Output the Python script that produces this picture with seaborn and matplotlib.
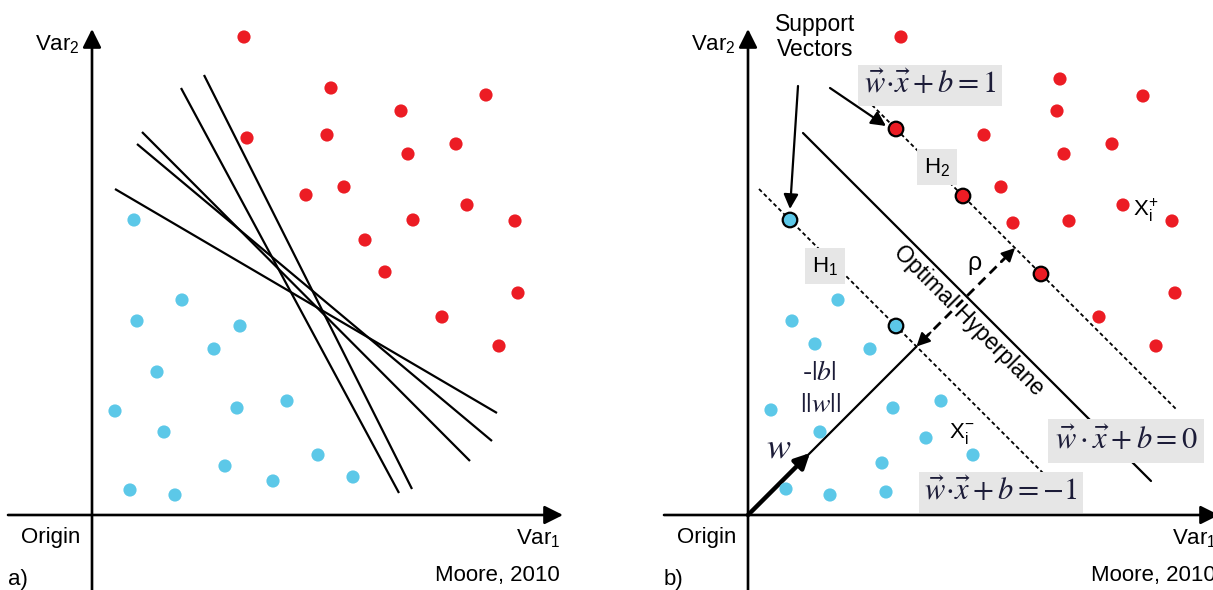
import numpy as np
import pandas as pd
import matplotlib
matplotlib.use("Agg")
import matplotlib.pyplot as plt
import seaborn as sns

sns.set_theme(style="white")
plt.rcParams['font.family'] = ['Liberation Sans', 'DejaVu Sans']
plt.rcParams['mathtext.fontset'] = 'stix'
plt.rcParams['text.color'] = 'black'

# ---------------- data (coordinates relative to each panel's origin) -------------
left_red_x = [152, 239, 309, 394, 155, 235, 316, 364, 214, 252, 375, 321, 423, 273, 293, 426, 350, 407]
left_red_y = [478, 427, 404, 420, 377, 380, 361, 371, 320, 328, 310, 295, 294, 275, 243, 222, 198, 169]
left_blue_x = [42, 90, 45, 148, 122, 65, 23, 145, 195, 72, 226, 133, 181, 261, 38, 83]
left_blue_y = [295, 215, 194, 189, 166, 143, 104, 107, 114, 83, 60, 49, 34, 38, 25, 20]
# candidate separating lines: start x, start y, end x, end y
sep_x1 = [112, 89, 50, 45, 23]
sep_y1 = [440, 427, 383, 371, 326]
sep_x2 = [320, 307, 378, 400, 405]
sep_y2 = [26, 22, 54, 74, 102]

right_red_x = [153, 312, 395, 309, 236, 364, 316, 253, 375, 265, 321, 424, 427, 351, 408]
right_red_y = [478, 436, 419, 404, 380, 371, 361, 328, 310, 292, 294, 294, 222, 198, 169]
right_blue_x = [90, 44, 67, 122, 23, 145, 193, 72, 178, 225, 134, 38, 82, 138]
right_blue_y = [215, 194, 171, 166, 105, 107, 114, 83, 77, 60, 52, 26, 20, 23]
sv_red_x = [148, 215, 293]
sv_red_y = [386, 319, 241]
sv_blue_x = [42, 148]
sv_blue_y = [295, 189]
# hyperplanes x + y = c : H1, optimal, H2
plane_c = [337, 437, 534]
plane_xmin = [11, 55, 124]
plane_xmax = [295, 403, 428]
plane_style = ['dashed', 'solid', 'dashed']

RED = '#ec1c24'
BLUE = '#5cc8e8'
BOXC = '#e6e6e6'
EQC = '#1c1c38'

W, H = 1213, 590
fig = plt.figure(figsize=(W / 100, H / 100), dpi=100)
fig.patch.set_facecolor('white')

ox_l, ox_r, oy = 92, 748, 515
split = 620
axL = fig.add_axes([0, 0, split / W, 1])
axR = fig.add_axes([split / W, 0, (W - split) / W, 1])
axL.set_xlim(-ox_l, split - ox_l)
axR.set_xlim(split - ox_r, W - ox_r)
for ax in (axL, axR):
    ax.set_ylim(oy - H, oy)
    ax.axis('off')


def draw_axes(ax, panel_label):
    ax.annotate('', xy=(471, 0), xytext=(-84, 0),
                arrowprops=dict(arrowstyle='-|>', lw=1.9, color='black',
                                mutation_scale=28, shrinkA=0, shrinkB=0), annotation_clip=False)
    ax.annotate('', xy=(0, 486), xytext=(0, -80),
                arrowprops=dict(arrowstyle='-|>', lw=1.9, color='black',
                                mutation_scale=28, shrinkA=0, shrinkB=0), annotation_clip=False)
    ax.text(-12, 471, r'Var$_{\mathregular{2}}$', ha='right', va='center', fontsize=16)
    ax.text(-12, -23, 'Origin', ha='right', va='center', fontsize=16)
    ax.text(424, -23, r'Var$_{\mathregular{1}}$', ha='left', va='center', fontsize=16, clip_on=False)
    ax.text(343, -60, 'Moore, 2010', ha='left', va='center', fontsize=16, clip_on=False)
    ax.text(-84, -64, panel_label, ha='left', va='center', fontsize=16)


# ---------------- panel a ----------------
draw_axes(axL, 'a)')
for x1, y1, x2, y2 in zip(sep_x1, sep_y1, sep_x2, sep_y2):
    axL.plot([x1, x2], [y1, y2], color='black', lw=1.6, solid_capstyle='butt')
dfL = pd.DataFrame({'x': left_red_x + left_blue_x, 'y': left_red_y + left_blue_y,
                    'cls': ['pos'] * len(left_red_x) + ['neg'] * len(left_blue_x)})
sns.scatterplot(data=dfL, x='x', y='y', hue='cls', palette={'pos': RED, 'neg': BLUE},
                s=90, linewidth=0, legend=False, ax=axL, zorder=3)

# ---------------- panel b ----------------
draw_axes(axR, 'b)')
for c, x0, x1, st in zip(plane_c, plane_xmin, plane_xmax, plane_style):
    xs = np.array([x0, x1])
    if st == 'solid':
        axR.plot(xs, c - xs, color='black', lw=1.6)
    else:
        axR.plot(xs, c - xs, color='black', lw=1.3, linestyle=(0, (2.2, 1.6)))

# w direction line and thick arrow
mid1 = plane_c[0] / 2
mid2 = plane_c[2] / 2
axR.plot([0, mid1], [0, mid1], color='black', lw=1.6)
axR.annotate('', xy=(62, 62), xytext=(0, 0),
             arrowprops=dict(arrowstyle='-|>', lw=3.2, color='black', mutation_scale=22,
                             shrinkA=0, shrinkB=0))
# rho dashed double arrow
axR.plot([mid1 + 6, mid2 - 6], [mid1 + 6, mid2 - 6], color='black', lw=2.0, linestyle=(0, (3.5, 2.2)))
for tip, back in ((mid2, mid2 - 14), (mid1, mid1 + 14)):
    axR.annotate('', xy=(tip, tip), xytext=(back, back),
                 arrowprops=dict(arrowstyle='-|>', lw=1.5, color='black', mutation_scale=20,
                                 shrinkA=0, shrinkB=0))

dfR = pd.DataFrame({'x': right_red_x + right_blue_x, 'y': right_red_y + right_blue_y,
                    'cls': ['pos'] * len(right_red_x) + ['neg'] * len(right_blue_x)})
sns.scatterplot(data=dfR, x='x', y='y', hue='cls', palette={'pos': RED, 'neg': BLUE},
                s=90, linewidth=0, legend=False, ax=axR, zorder=3)
dfS = pd.DataFrame({'x': sv_red_x + sv_blue_x, 'y': sv_red_y + sv_blue_y,
                    'cls': ['pos'] * len(sv_red_x) + ['neg'] * len(sv_blue_x)})
sns.scatterplot(data=dfS, x='x', y='y', hue='cls', palette={'pos': RED, 'neg': BLUE},
                s=110, edgecolor='black', linewidth=1.6, legend=False, ax=axR, zorder=4)

# support vector arrows
axR.annotate('', xy=(42, 306), xytext=(50, 429),
             arrowprops=dict(arrowstyle='-|>', lw=1.6, color='black', mutation_scale=22,
                             shrinkA=0, shrinkB=0))
axR.annotate('', xy=(138, 389), xytext=(82, 427),
             arrowprops=dict(arrowstyle='-|>', lw=1.6, color='black', mutation_scale=22,
                             shrinkA=0, shrinkB=0))
axR.text(67, 478, 'Support\nVectors', ha='center', va='center', fontsize=16.5,
         linespacing=1.1, multialignment='center')

# equation boxes
box = dict(facecolor=BOXC, edgecolor='none', pad=4)
axR.text(182, 430, r'$\vec{w}\!\cdot\!\vec{x}+b=1$', ha='center', va='center',
         fontsize=22, color=EQC, bbox=box)
axR.text(378, 74, r'$\vec{w}\cdot\vec{x}+b=0$', ha='center', va='center',
         fontsize=22, color=EQC, bbox=dict(facecolor=BOXC, edgecolor='none', pad=5))
axR.text(253, 23, r'$\vec{w}\!\cdot\!\vec{x}+b=-1$', ha='center', va='center',
         fontsize=22, color=EQC, bbox=box)
hbox = dict(facecolor=BOXC, edgecolor='none', pad=5)
axR.text(189, 348, r'H$_{\mathregular{2}}$', ha='center', va='center', fontsize=16, bbox=hbox)
axR.text(77, 249, r'H$_{\mathregular{1}}$', ha='center', va='center', fontsize=16, bbox=hbox)

axR.text(221, 195, 'Optimal Hyperplane', ha='center', va='center', fontsize=16.5,
         rotation=-45, rotation_mode='anchor')
axR.text(227, 250, r'$\mathregular{\rho}$', ha='center', va='center', fontsize=18)
axR.text(71, 142, r'-$|b|$', ha='center', va='center', fontsize=20, color=EQC)
axR.text(72, 110, r'$||w||$', ha='center', va='center', fontsize=20, color=EQC)
axR.text(31, 67, r'$w$', ha='center', va='center', fontsize=26, color=EQC)
axR.text(385, 305, r'X$_{\mathregular{i}}^{\mathregular{+}}$', ha='left', va='center', fontsize=16)
axR.text(201, 82, r'X$_{\mathregular{i}}^{\mathregular{-}}$', ha='left', va='center', fontsize=16)

fig.savefig('out.png', dpi=100, facecolor='white')
